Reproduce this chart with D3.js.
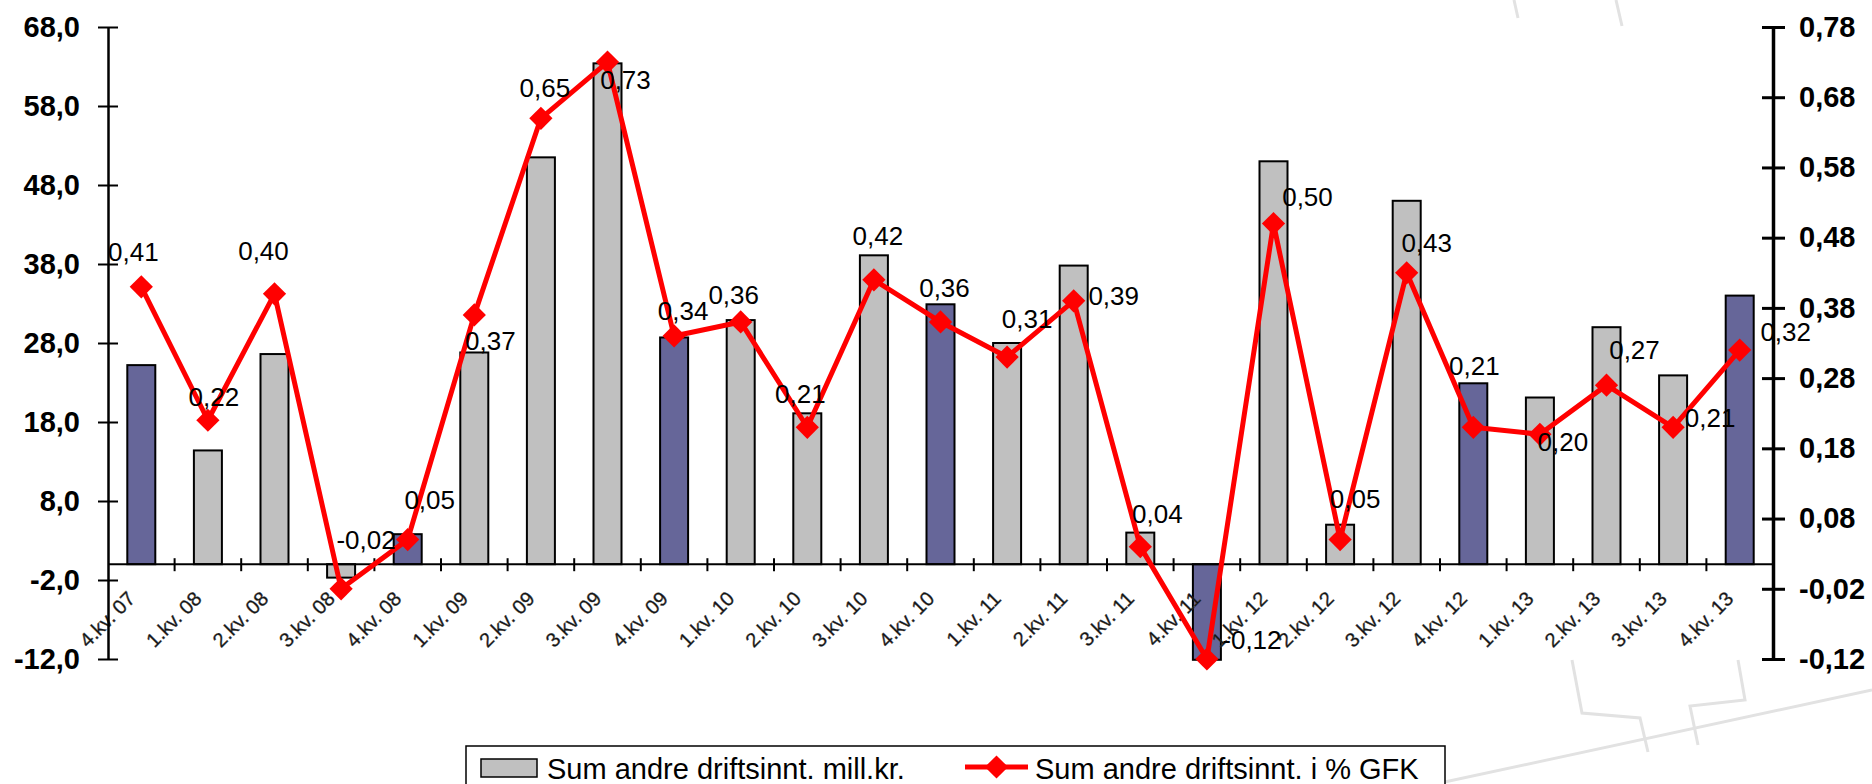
<!DOCTYPE html>
<html>
<head>
<meta charset="utf-8">
<script src="https://cdn.jsdelivr.net/npm/d3@7/dist/d3.min.js"></script>
<style>
  body { margin: 0; background: #fff; }
  svg { display: block; font-family: "Liberation Sans", Arial, sans-serif; }
</style>
</head>
<body>
<svg id="chart" width="1872" height="784"></svg>
<script>
// kvartaler
var categories = ["4.kv. 07",
  "1.kv. 08", "2.kv. 08", "3.kv. 08", "4.kv. 08",
  "1.kv. 09", "2.kv. 09", "3.kv. 09", "4.kv. 09",
  "1.kv. 10", "2.kv. 10", "3.kv. 10", "4.kv. 10",
  "1.kv. 11", "2.kv. 11", "3.kv. 11", "4.kv. 11",
  "1.kv. 12", "2.kv. 12", "3.kv. 12", "4.kv. 12",
  "1.kv. 13", "2.kv. 13", "3.kv. 13", "4.kv. 13"];

// Sum andre driftsinnt. mill.kr. (venstre akse)
var sumMill = [25.2,
  14.4, 26.6, -1.7, 3.8,
  26.8, 51.5, 63.4, 28.7,
  30.9, 19.1, 39.1, 32.9,
  28.0, 37.8, 4.0, -12.1,
  51.0, 5.0, 46.0, 22.9,
  21.1, 30.0, 23.9, 34.0];

// Sum andre driftsinnt. i % GFK (høyre akse)
var sumPct = [0.41,
  0.22, 0.40, -0.02, 0.05,
  0.37, 0.65, 0.73, 0.34,
  0.36, 0.21, 0.42, 0.36,
  0.31, 0.39, 0.04, -0.12,
  0.50, 0.05, 0.43, 0.21,
  0.20, 0.27, 0.21, 0.32];

var leftTicks = [-12, -2, 8, 18, 28, 38, 48, 58, 68];
var rightTicks = [-0.12, -0.02, 0.08, 0.18, 0.28, 0.38, 0.48, 0.58, 0.68, 0.78];

var legendLabels = ["Sum andre driftsinnt. mill.kr.", "Sum andre driftsinnt. i % GFK"];

// plassering av dataetiketter i forhold til markøren (dx, dy)
var labelNudge = [[-8, -35],
  [6, -24], [-11, -43], [25, -49], [22, -40],
  [16, 26], [4, -31], [18, 18], [9, -25],
  [-7, -27], [-7, -34], [4, -44], [4, -34],
  [20, -38], [40, -5], [17, -33], [45, -19],
  [34, -27], [15, -41], [20, -30], [1, -62],
  [23, 7], [28, -35], [37, -10], [46, -18]];

var svg = d3.select("#chart");
var LEFT = 108, RIGHT = 1773, TOP = 27, BOTTOM = 659;

var x = d3.scaleBand().domain(categories).range([LEFT, RIGHT]).padding(0);
var yL = d3.scaleLinear().domain([-12, 68]).range([BOTTOM, TOP]);
var yR = d3.scaleLinear().domain([-0.12, 0.78]).range([BOTTOM, TOP]);
var comma = function(n, d) { return n.toFixed(d).replace(".", ","); };

// bakgrunnsvannmerke (svakt)
var wm = svg.append("g").attr("fill", "none").attr("stroke", "#e2e2e2").attr("stroke-width", 3);
wm.append("path").attr("d", "M1440,783 L1872,690");
wm.append("path").attr("d", "M1572,660 L1582,713 L1640,718 L1648,752");
wm.append("path").attr("d", "M1738,660 L1745,700 L1690,706 L1698,745");
wm.append("path").attr("d", "M1514,0 L1518,18 M1616,0 L1622,26");

// søyler
var bw = 28;
svg.append("g").selectAll("rect")
  .data(sumMill)
  .join("rect")
  .attr("x", function(d, i) { return x(categories[i]) + x.bandwidth() / 2 - bw / 2; })
  .attr("y", function(d) { return yL(Math.max(0, d)); })
  .attr("width", bw)
  .attr("height", function(d) { return Math.abs(yL(d) - yL(0)); })
  .attr("fill", function(d, i) { return categories[i].charAt(0) === "4" ? "#666699" : "#c0c0c0"; })
  .attr("stroke", "#000")
  .attr("stroke-width", 2);

// kategoriakse ved null
var y0 = yL(0);
svg.append("line")
  .attr("x1", LEFT).attr("x2", RIGHT).attr("y1", y0).attr("y2", y0)
  .attr("stroke", "#000").attr("stroke-width", 2);
svg.append("g").selectAll("line")
  .data(categories.slice(1))
  .join("line")
  .attr("x1", function(c) { return x(c); })
  .attr("x2", function(c) { return x(c); })
  .attr("y1", y0 - 6).attr("y2", y0 + 7)
  .attr("stroke", "#000").attr("stroke-width", 2);
svg.append("g").selectAll("text")
  .data(categories)
  .join("text")
  .attr("transform", function(c) {
    return "translate(" + (x(c) + x.bandwidth() / 2 - 5) + "," + 600 + ") rotate(-45)";
  })
  .attr("text-anchor", "end")
  .attr("font-size", 20)
  .attr("fill", "#111")
  .attr("stroke", "#444")
  .attr("stroke-width", 0.4)
  .text(function(c) { return c; });

// venstre akse
var axL = svg.append("g")
  .attr("transform", "translate(" + LEFT + ",0)")
  .call(d3.axisLeft(yL).tickValues(leftTicks).tickSizeInner(10).tickSizeOuter(0).tickPadding(18)
    .tickFormat(function(d) { return comma(d, 1); }));
axL.select(".domain").attr("stroke-width", 2.5);
axL.selectAll(".tick line").attr("x1", 10).attr("stroke-width", 2);
axL.selectAll(".tick text").attr("font-size", 29).attr("font-weight", "bold")
  .attr("font-family", "Liberation Sans, Arial, sans-serif").attr("fill", "#000");

// høyre akse
var axR = svg.append("g")
  .attr("transform", "translate(" + RIGHT + ",0)")
  .call(d3.axisRight(yR).tickValues(rightTicks).tickSizeInner(12).tickSizeOuter(0).tickPadding(14)
    .tickFormat(function(d) { return comma(d, 2); }));
axR.select(".domain").attr("stroke-width", 3.5);
axR.selectAll(".tick line").attr("x1", -11).attr("stroke-width", 3);
axR.selectAll(".tick text").attr("font-size", 29).attr("font-weight", "bold")
  .attr("font-family", "Liberation Sans, Arial, sans-serif").attr("fill", "#000");

// linje
var cx = function(i) { return x(categories[i]) + x.bandwidth() / 2; };
var line = d3.line()
  .x(function(d, i) { return cx(i); })
  .y(function(d) { return yR(d); });
svg.append("path")
  .datum(sumPct)
  .attr("d", line)
  .attr("fill", "none")
  .attr("stroke", "#ff0000")
  .attr("stroke-width", 5)
  .attr("stroke-linejoin", "round");

var diamond = d3.symbol().type(d3.symbolSquare).size(270);
svg.append("g").selectAll("path")
  .data(sumPct)
  .join("path")
  .attr("d", diamond)
  .attr("transform", function(d, i) { return "translate(" + cx(i) + "," + yR(d) + ") rotate(45)"; })
  .attr("fill", "#ff0000");

svg.append("g").selectAll("text")
  .data(sumPct)
  .join("text")
  .attr("x", function(d, i) { return cx(i) + labelNudge[i][0]; })
  .attr("y", function(d, i) { return yR(d) + labelNudge[i][1]; })
  .attr("dy", "0.36em")
  .attr("text-anchor", "middle")
  .attr("font-size", 26)
  .attr("fill", "#000")
  .text(function(d) { return comma(d, 2); });

// tegnforklaring
var lg = svg.append("g");
lg.append("rect").attr("x", 466).attr("y", 746).attr("width", 979).attr("height", 60)
  .attr("fill", "#fff").attr("stroke", "#000").attr("stroke-width", 1.5);
lg.append("rect").attr("x", 481).attr("y", 759).attr("width", 56).attr("height", 18)
  .attr("fill", "#c0c0c0").attr("stroke", "#000").attr("stroke-width", 1.5);
lg.append("text").attr("x", 547).attr("y", 779).attr("font-size", 29).text(legendLabels[0]);
lg.append("line").attr("x1", 965).attr("x2", 1028).attr("y1", 767).attr("y2", 767)
  .attr("stroke", "#ff0000").attr("stroke-width", 5);
lg.append("path").attr("d", diamond).attr("transform", "translate(996.5,767) rotate(45)").attr("fill", "#ff0000");
lg.append("text").attr("x", 1035).attr("y", 779).attr("font-size", 29).text(legendLabels[1]);
</script>
</body>
</html>
